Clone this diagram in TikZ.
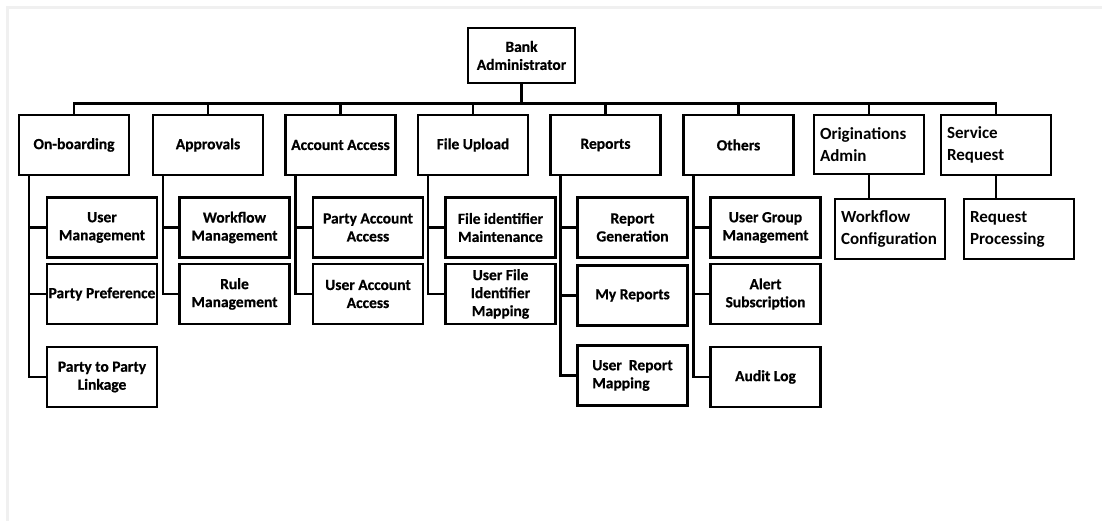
\documentclass[tikz,border=0pt]{standalone}
\usepackage{fontspec}
\setmainfont{Carlito}
\newfontfamily\heavyfont{Carlito}[BoldFeatures={FakeBold=0.6}]
\usepackage{tikz}
\usetikzlibrary{positioning}

\begin{document}
\begin{tikzpicture}[
        x=1pt,
        y=-1pt,
        box/.style={draw, line width=2.3pt, minimum width=110pt, minimum height=60pt,
            inner sep=1pt, align=center, font=\heavyfont\bfseries\fontsize{15.5}{18}\selectfont},
        lbox/.style={box, align=left, text width=98pt, inner xsep=6pt,
            font=\bfseries\fontsize{17}{22}\selectfont},
        link/.style={line width=2.3pt},
        frame/.style={line width=3pt, gray!12}
    ]
        \useasboundingbox (0,0) rectangle (1102,521);
        \draw[frame] (7.5,521) -- (7.5,8) -- (1102,8);

        % root and bus
        \node[box, minimum width=107pt, minimum height=55pt] (bank) at (521.5,55.5) {Bank\\Administrator};
        \coordinate (bus) at (0,103.5);

        % first level
        \node[box] (onb) at (74,145) {On-boarding};
        \node[box] (appr) at (208,145) {Approvals};
        \node[box] (acc) at (340.5,145) {Account Access};
        \node[box] (upl) at (473,145) {File Upload};
        \node[box] (rep) at (605.5,145) {Reports};
        \node[box] (oth) at (738.5,145) {Others};
        \node[lbox, minimum height=59pt] (orig) at (869,144.5) {Originations\\Admin};
        \node[lbox] (serv) at (996,145) {Service\\Request};

        \foreach \n in {onb,appr,acc,upl,rep,oth,orig,serv} {
            \draw[link] (bank.south) -- (bank.south |- bus) -| (\n.north);
        }

        % second level
        \node[box] (um) at (102,227.5) {User\\Management};
        \node[box] (ppref) at (102,294) {Party Preference};
        \node[box] (p2p) at (102,377) {Party to Party\\Linkage};

        \node[box] (wfm) at (234.5,227.5) {Workflow\\Management};
        \node[box] (rulem) at (234.5,294) {Rule\\Management};

        \node[box] (paa) at (368,227.5) {Party Account\\Access};
        \node[box] (uaa) at (368,294) {User Account\\Access};

        \node[box] (fim) at (500.5,227.5) {File identifier\\Maintenance};
        \node[box] (ufim) at (500.5,294) {User File\\Identifier\\Mapping};

        \node[box] (rgen) at (632.5,227.5) {Report\\Generation};
        \node[box] (myrep) at (632.5,295.5) {My Reports};
        \node[box, align=left] (urm) at (632.5,375.5) {User\ \ Report\\Mapping};

        \node[box] (ugm) at (765.5,227.5) {User Group\\Management};
        \node[box] (alsub) at (765.5,294) {Alert\\Subscription};
        \node[box] (alog) at (765.5,377) {Audit Log};

        \node[lbox] (wfc) at (890,229) {Workflow\\Configuration};
        \node[lbox] (reqp) at (1019,229) {Request\\Processing};

        % side trunks
        \foreach \p/\c in {onb/um,onb/ppref,onb/p2p,appr/wfm,appr/rulem,acc/paa,acc/uaa,
            upl/fim,upl/ufim,rep/rgen,rep/myrep,rep/urm,oth/ugm,oth/alsub,oth/alog} {
            \draw[link] ([xshift=11pt]\p.south west) |- (\c.west);
        }
        \draw[link] (orig.south) -- (orig.south |- wfc.north);
        \draw[link] (serv.south) -- (serv.south |- reqp.north);
    \end{tikzpicture}
\end{document}
